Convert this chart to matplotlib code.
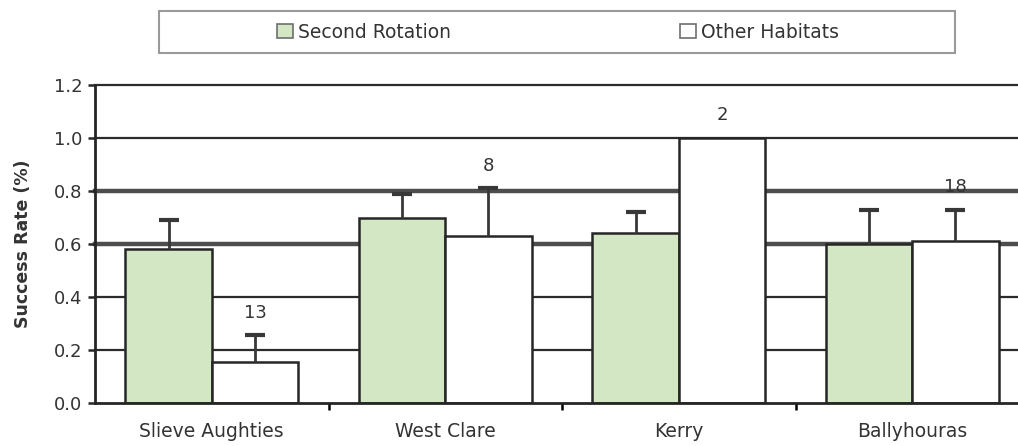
import numpy as np
import matplotlib
matplotlib.use('Agg')
import matplotlib.pyplot as plt
import matplotlib.patches as mpatches

plt.rcParams.update({'font.family': ['DejaVu Sans'], 'font.size': 12})

# data
sites = ['Slieve Aughties', 'West Clare', 'Kerry', 'Ballyhouras']
second = [0.58, 0.70, 0.64, 0.60]
second_err = [0.11, 0.09, 0.08, 0.13]
other = [0.155, 0.63, 1.00, 0.61]
other_err = [0.10, 0.18, 0.0, 0.12]
n_other = ['13', '8', '2', '18']
yticks = [0.0, 0.2, 0.4, 0.6, 0.8, 1.0, 1.2]

GREEN = '#D3E7C5'
EDGE = '#262626'
ERR = '#383838'
TXT = '#333333'

fig = plt.figure(figsize=(10.18, 4.46), dpi=100)
ax = fig.add_axes([95/1018, 43/446, 934/1018, 318/446])

# gridlines (0.6 and 0.8 render heavier in the original)
for y in yticks[1:]:
    if y in (0.6, 0.8):
        ax.axhline(y, color='#4d4d4d', lw=3.2, zorder=0, clip_on=False)
    else:
        ax.axhline(y, color='#2b2b2b', lw=1.6, zorder=0, clip_on=False)

x = np.arange(len(sites))
w = 0.37
ax.bar(x - w/2, second, w, color=GREEN, edgecolor=EDGE, lw=1.8, zorder=2, label='Second Rotation')
ax.bar(x + w/2, other, w, color='white', edgecolor=EDGE, lw=1.8, zorder=2, label='Other Habitats')

# upper-only error bars (Excel style)
def up_err(xp, top, err):
    if err <= 0:
        return
    ax.vlines(xp, top, top + err, color=ERR, lw=2, zorder=3)
    ax.plot([xp], [top + err], marker='_', ms=15, mew=3, color=ERR, zorder=3)

for i in range(len(sites)):
    up_err(x[i] - w/2, second[i], second_err[i])
    up_err(x[i] + w/2, other[i], other_err[i])
    ax.text(x[i] + w/2, other[i] + other_err[i] + 0.085, n_other[i], ha='center', va='center',
            fontsize=13, color=TXT, zorder=4)

ax.set_xlim(-0.5, 3.5)
ax.set_ylim(0, 1.2)
ax.set_yticks(yticks)
ax.set_yticklabels([f'{v:.1f}' for v in yticks], fontsize=13)
ax.set_xticks(x)
ax.set_xticklabels(sites, fontsize=13.5)
ax.set_xticks([0.5, 1.5, 2.5], minor=True)
ax.tick_params(axis='x', which='major', length=0, pad=14)
ax.tick_params(axis='x', which='minor', length=5, width=1.8, direction='out')
ax.tick_params(axis='y', length=5, width=1.8, direction='out', pad=4, colors='#262626')
ax.tick_params(labelcolor=TXT)
for s in ['top', 'right']:
    ax.spines[s].set_visible(False)
for s in ['left', 'bottom']:
    ax.spines[s].set_linewidth(2)
    ax.spines[s].set_color('#262626')
ax.set_ylabel('Success Rate (%)', fontsize=12.5, fontweight='bold', color=TXT, labelpad=16)

# legend box
fig.patches.append(mpatches.Rectangle((159/1018, 1 - 53/446), 796/1018, 42/446,
                                      transform=fig.transFigure, fill=False,
                                      edgecolor='#9a9a9a', lw=1.5))
h, l = ax.get_legend_handles_labels()
leg = fig.legend(h, l, loc='center', bbox_to_anchor=(558/1018, 1 - 32/446), ncol=2,
                 frameon=False, columnspacing=12.2, handlelength=0.85, handleheight=0.85,
                 handletextpad=0.3, fontsize=13.5)
for t in leg.get_texts():
    t.set_color(TXT)
for p in leg.get_patches():
    p.set_edgecolor('#6e6e6e')
    p.set_linewidth(1.2)

fig.savefig('out.png', dpi=100)
